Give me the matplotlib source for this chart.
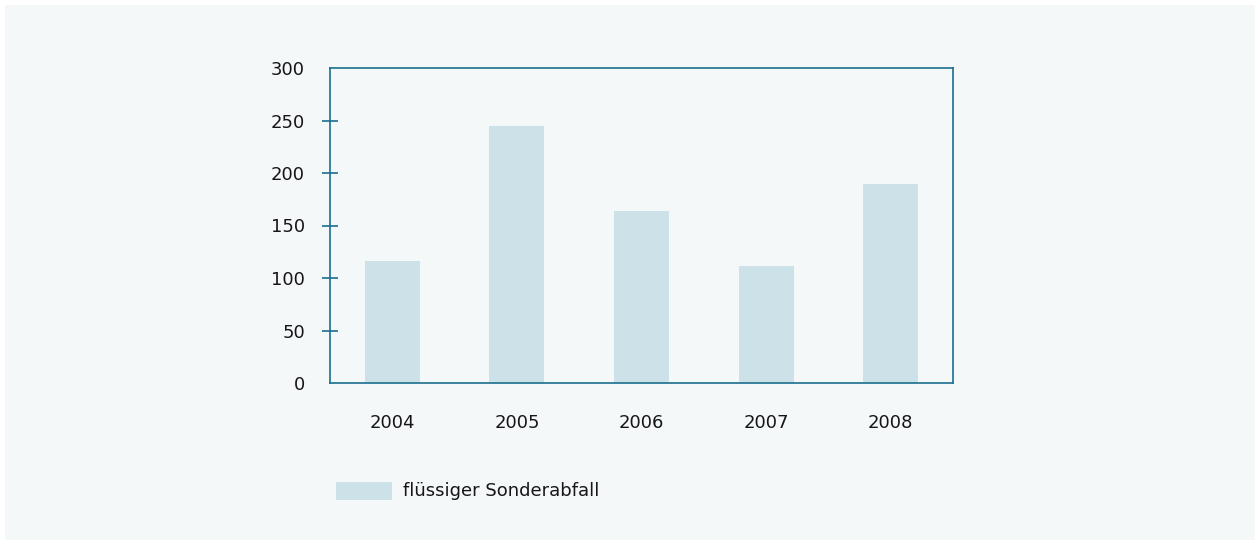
import matplotlib
matplotlib.use('Agg')
import matplotlib.pyplot as plt
import matplotlib.patches as mpatches

years = ['2004', '2005', '2006', '2007', '2008']
values = [116, 245, 164, 111, 190]
y_ticks = [0, 50, 100, 150, 200, 250, 300]
legend_label = 'flüssiger Sonderabfall'

BAR_COLOR = '#cde1e8'
SPINE_COLOR = '#1b6f8f'
BG = '#f5f8f9'
TXT = '#161616'
FS = 13

plt.rcParams['font.family'] = ['DejaVu Sans']

fig = plt.figure(figsize=(12.6, 5.45), dpi=100, facecolor='white')
# light panel behind everything
fig.patches.append(mpatches.Rectangle((5 / 1260, 5 / 545), 1250 / 1260, 535 / 545,
                                      transform=fig.transFigure, facecolor=BG,
                                      edgecolor='none', zorder=-10))

ax = fig.add_axes([330 / 1260, 1 - 383 / 545, 623 / 1260, 315 / 545])
ax.set_facecolor(BG)
ax.bar(range(len(years)), values, width=0.44, color=BAR_COLOR, zorder=2)

ax.set_xlim(-0.5, len(years) - 0.5)
ax.set_ylim(0, 300)
ax.set_yticks(y_ticks)
ax.set_xticks(range(len(years)))
ax.set_xticklabels(years)
ax.tick_params(axis='y', direction='inout', length=11, width=1.2, color=SPINE_COLOR,
               labelsize=FS, pad=12.5, labelcolor=TXT)
ax.tick_params(axis='x', length=0, labelsize=FS, pad=22, labelcolor=TXT)
yt = ax.yaxis.get_major_ticks()
for t in (yt[0], yt[-1]):
    t.tick1line.set_visible(False)
for s in ax.spines.values():
    s.set_color(SPINE_COLOR)
    s.set_linewidth(1.2)

fig.patches.append(mpatches.Rectangle((336 / 1260, 1 - 500 / 545), 56 / 1260, 18 / 545,
                                      transform=fig.transFigure, facecolor=BAR_COLOR,
                                      edgecolor='none'))
fig.text(403 / 1260, 1 - 491 / 545, legend_label, fontsize=FS, color=TXT,
         va='center', ha='left')

fig.savefig('out.png', dpi=100, facecolor=fig.get_facecolor())
